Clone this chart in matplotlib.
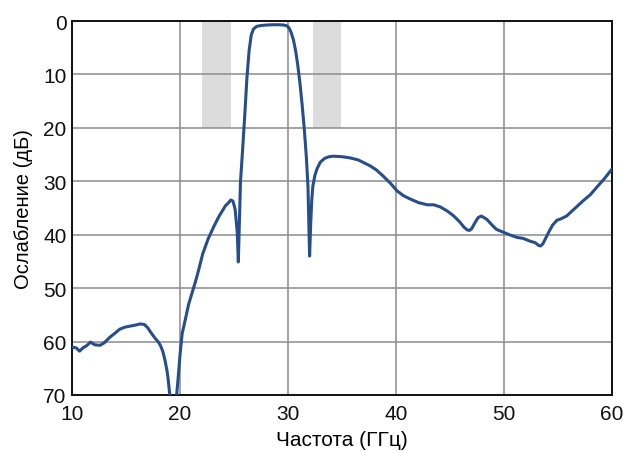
import matplotlib
matplotlib.use("Agg")
import matplotlib.pyplot as plt

plt.rcParams['font.family'] = ['Liberation Sans', 'DejaVu Sans']

freq = [10.0, 10.4, 10.7, 11.0, 11.4, 11.7, 12.1, 12.6, 13.0, 13.5, 14.0, 14.4, 14.9, 15.4, 15.9, 16.3, 16.7,
        17.0, 17.3, 17.7, 18.0, 18.2, 18.4, 18.6, 18.8, 18.9, 19.0, 19.2, 19.4, 19.6, 19.8, 20.0, 20.2,
        20.5, 20.8, 21.1, 21.4, 21.7, 22.1, 22.6, 23.1, 23.6, 24.2, 24.5, 24.7, 24.9, 25.1, 25.3, 25.4,
        25.6, 25.8, 26.0, 26.2, 26.4, 26.6, 26.8, 27.1, 27.5, 28.0, 28.6, 29.2, 29.6, 29.9, 30.1, 30.3,
        30.5, 30.7, 30.9, 31.1, 31.3, 31.5, 31.7, 31.85, 32.0, 32.1, 32.2, 32.3, 32.5, 32.7, 33.0, 33.4,
        33.8, 34.2, 35.0, 35.7, 36.5, 37.2, 37.6, 38.2, 38.8, 39.5, 40.1, 40.7, 41.3, 42.1, 42.9, 43.5,
        44.1, 44.7, 45.3, 45.9, 46.3, 46.6, 46.8, 47.0, 47.3, 47.6, 47.9, 48.4, 48.9, 49.3, 49.9, 50.5,
        51.2, 51.8, 52.4, 52.9, 53.2, 53.4, 53.6, 53.9, 54.2, 54.5, 54.9, 55.3, 55.8, 56.5, 57.3, 58.0,
        58.6, 59.3, 60.0]
atten = [61.0, 61.2, 61.8, 61.2, 60.7, 60.1, 60.6, 60.7, 60.2, 59.2, 58.4, 57.7, 57.3, 57.1, 56.9, 56.7, 56.8,
         57.4, 58.3, 59.4, 60.1, 60.8, 61.8, 63.4, 65.5, 67.0, 69.0, 72.5, 74.5, 72.0, 67.5, 62.5, 58.5,
         55.8, 53.0, 51.0, 49.0, 46.8, 43.6, 40.8, 38.6, 36.6, 34.6, 34.0, 33.5, 33.7, 35.2, 39.5, 45.1,
         30.1, 24.0, 17.5, 10.5, 5.5, 2.6, 1.5, 1.0, 0.85, 0.75, 0.7, 0.7, 0.75, 0.9, 1.3, 2.2,
         3.5, 5.5, 8.2, 11.5, 15.5, 20.0, 25.5, 31.0, 44.0, 38.0, 33.5, 30.9, 28.8, 27.6, 26.4, 25.7,
         25.4, 25.3, 25.4, 25.6, 26.0, 26.7, 27.1, 27.9, 29.0, 30.4, 31.8, 32.7, 33.3, 34.0, 34.4, 34.4,
         34.8, 35.5, 36.4, 37.6, 38.6, 39.1, 39.2, 38.9, 37.8, 36.8, 36.5, 37.1, 38.2, 39.0, 39.5, 40.0,
         40.5, 40.7, 41.2, 41.5, 42.0, 42.1, 41.7, 40.5, 39.3, 38.2, 37.3, 37.0, 36.5, 35.2, 33.7, 32.5,
         31.1, 29.5, 27.7]

bands = [(22.0, 24.7), (32.3, 34.9)]
band_depth = 20

fig = plt.figure(figsize=(6.23, 4.52), dpi=100)
ax = fig.add_axes([0.1156, 0.1239, 0.8667, 0.8274])

for x0, x1 in bands:
    ax.fill_between([x0, x1], 0, band_depth, color='#dcdcdc', linewidth=0, zorder=0.5)

ax.plot(freq, atten, color='#274e8c', linewidth=2.2, solid_joinstyle='round',
        solid_capstyle='round', zorder=3)

ax.set_xlim(10, 60)
ax.set_ylim(70, 0)
ax.set_xticks([10, 20, 30, 40, 50, 60])
ax.set_yticks([0, 10, 20, 30, 40, 50, 60, 70])
ax.grid(True, color='#8c8c8c', linewidth=1.1)
ax.set_axisbelow(True)
for s in ax.spines.values():
    s.set_color('#111111')
    s.set_linewidth(1.4)
ax.tick_params(length=0, labelsize=15, pad=4, colors='#111111')
ax.tick_params(axis='x', pad=6.5)
ax.set_xlabel('Частота (ГГц)', fontsize=15, labelpad=5)
ax.set_ylabel('Ослабление (дБ)', fontsize=14.5, labelpad=7)

fig.savefig('out.png', dpi=100)
